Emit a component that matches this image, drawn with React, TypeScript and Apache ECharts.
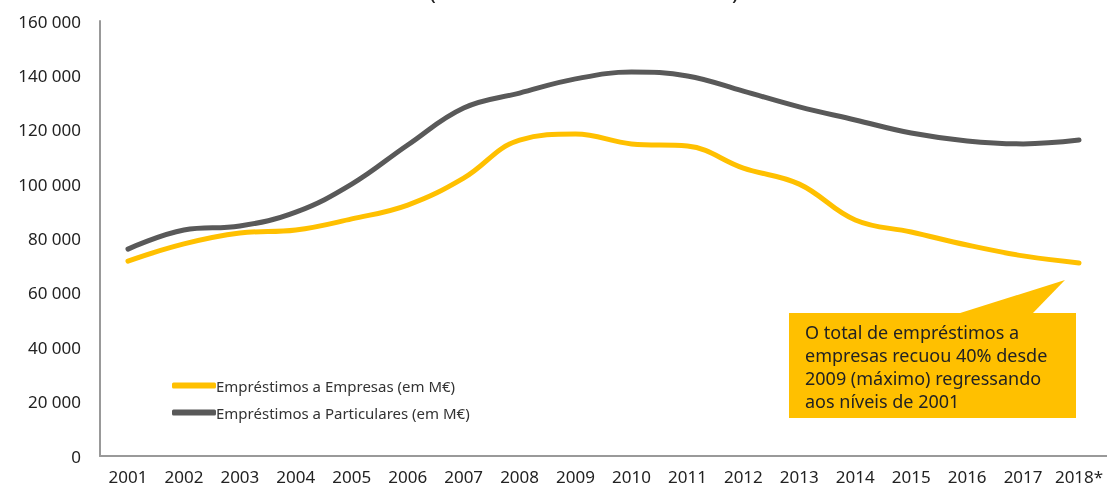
import React, { useEffect, useRef } from "react";
import * as echarts from "echarts";

const years = ["2001","2002","2003","2004","2005","2006","2007","2008","2009","2010","2011","2012","2013","2014","2015","2016","2017","2018*"];
const empresas = [71700,78000,82000,83100,87200,92300,102200,116200,118400,114800,114000,105900,100000,86800,82400,77600,73600,71000];
const particulares = [76100,83100,84600,89700,100000,114400,128000,133500,138700,141200,139800,134200,128400,123600,118800,115900,114800,116200];
const seriesNames = ["Empréstimos a Empresas (em M€)", "Empréstimos a Particulares (em M€)"];
const calloutLines = ["O total de empréstimos a", "empresas recuou 40% desde", "2009 (máximo) regressando", "aos níveis de 2001"];
const subtitle = "(valores em milhões de euros)";

const FONT = "Noto Sans";
const fmt = (v: number) => String(v).replace(/\B(?=(\d{3})+(?!\d))/g, " ");

export default function App() {
  const ref = useRef<HTMLDivElement>(null);
  useEffect(() => {
    if (!ref.current) return;
    const chart = echarts.init(ref.current, null, { renderer: "svg" });
    chart.setOption({
      animation: false,
      textStyle: { fontFamily: FONT },
      grid: { left: 100, right: -5, top: 21, bottom: 32, containLabel: false },
      legend: {
        orient: "vertical",
        left: 167,
        top: 373,
        itemWidth: 44,
        itemHeight: 6,
        itemGap: 12,
        icon: "roundRect",
        textStyle: { fontFamily: FONT, fontSize: 15, color: "#333", padding: [0, 0, 0, -5] },
        data: seriesNames,
      },
      xAxis: {
        type: "category",
        data: years,
        boundaryGap: true,
        axisLine: { lineStyle: { color: "#999", width: 2 } },
        axisTick: { show: false },
        axisLabel: { fontFamily: FONT, fontSize: 17, lineHeight: 17, color: "#222", margin: 12, interval: 0 },
      },
      yAxis: {
        type: "value",
        min: 0,
        max: 160000,
        interval: 20000,
        axisLine: { show: true, lineStyle: { color: "#999", width: 2 } },
        axisTick: { show: false },
        splitLine: { show: false },
        axisLabel: { fontFamily: FONT, fontSize: 17, color: "#222", margin: 19, formatter: fmt },
      },
      series: [
        {
          name: seriesNames[0],
          type: "line",
          data: empresas,
          smooth: 0.4,
          symbol: "none",
          itemStyle: { color: "#FFC000" },
          lineStyle: { color: "#FFC000", width: 5, cap: "round" },
        },
        {
          name: seriesNames[1],
          type: "line",
          data: particulares,
          smooth: 0.4,
          symbol: "none",
          itemStyle: { color: "#595959" },
          lineStyle: { color: "#595959", width: 5, cap: "round" },
        },
      ],
      graphic: [
        {
          type: "text",
          x: 584,
          y: -20,
          style: { text: subtitle, fontFamily: FONT, fontSize: 22, fill: "#222", align: "center" },
        },
        {
          type: "polygon",
          shape: { points: [[957, 314], [1065, 280], [1032, 314]] },
          style: { fill: "#FFC000" },
        },
        {
          type: "rect",
          shape: { x: 789, y: 313, width: 287, height: 105 },
          style: { fill: "#FFC000" },
        },
        {
          type: "text",
          x: 805,
          y: 320,
          style: {
            text: calloutLines.join("\n"),
            fontFamily: FONT,
            fontSize: 18,
            lineHeight: 23,
            fill: "#222",
          },
        },
      ],
    });
    return () => chart.dispose();
  }, []);
  return <div ref={ref} style={{ position: "fixed", left: 0, top: 0, width: 1107, height: 488 }} />;
}
